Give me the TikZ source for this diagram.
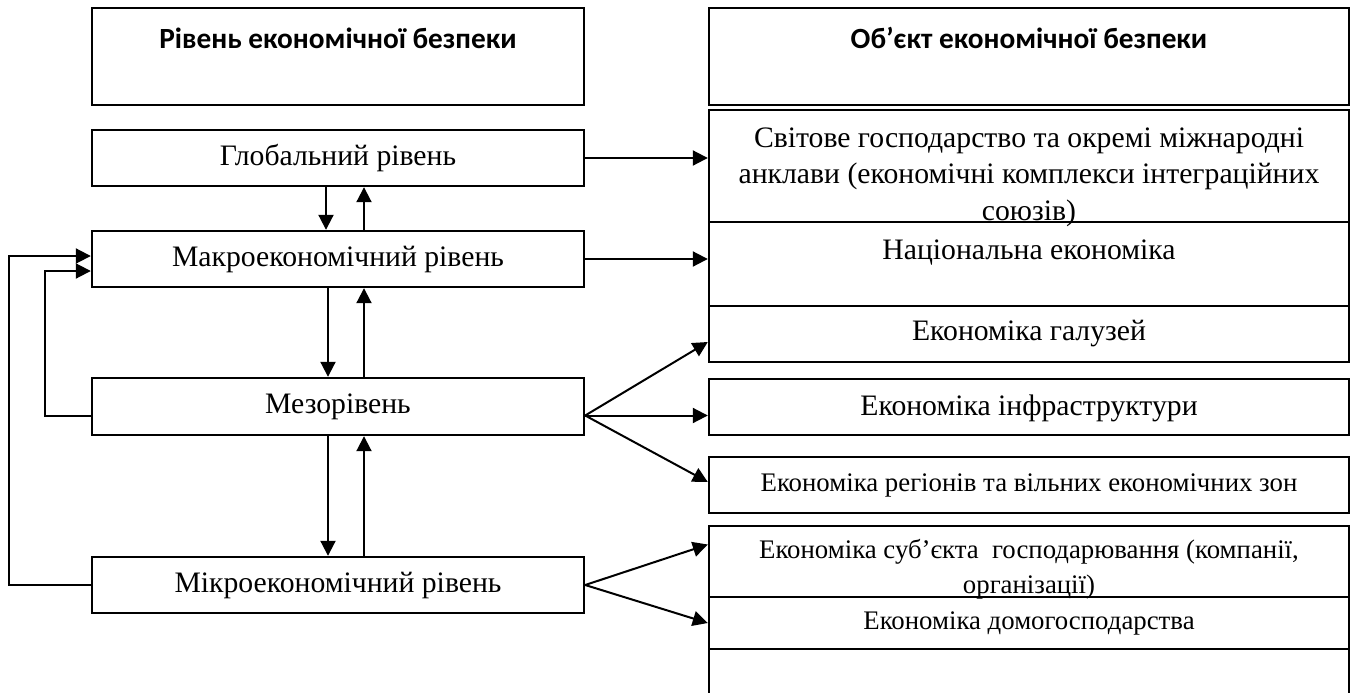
\documentclass[tikz,border=0pt]{standalone}
\usepackage{fontspec}
\setmainfont{Liberation Serif}
\newfontfamily\hdrfont{Carlito}
\usetikzlibrary{arrows.meta,calc}
\begin{document}
\begin{tikzpicture}[x=1pt,y=-1pt,
  box/.style={draw, line width=2.4pt, inner sep=0pt},
  lbox/.style={box, minimum width=492pt},
  rbox/.style={box, minimum width=640pt},
  txt/.style={font=\fontsize{29.7}{36.5}\selectfont, inner sep=0pt, align=center},
  stxt/.style={font=\fontsize{26.8}{35}\selectfont, inner sep=0pt, align=center},
  htxt/.style={font=\hdrfont\bfseries\fontsize{29.3}{32}\selectfont, inner sep=0pt},
  conn/.style={line width=2pt, -{Triangle[length=15pt,width=15pt]}}]
\useasboundingbox (0,0) rectangle (1352,693);
% left column
\node[lbox, minimum height=97pt] (hL) at (338,56.5) {};
\node[lbox, minimum height=56pt] (gl) at (338,158) {};
\node[lbox, minimum height=56pt] (ma) at (338,259) {};
\node[lbox, minimum height=57pt] (me) at (338,406.5) {};
\node[lbox, minimum height=56pt] (mi) at (338,585) {};
% right column
\node[rbox, minimum height=97pt] (hR) at (1029,56.5) {};
\node[rbox, minimum height=112pt] (r1) at (1029,166) {};
\node[rbox, minimum height=84pt] (r2) at (1029,264) {};
\node[rbox, minimum height=56pt] (r3) at (1029,334) {};
\node[rbox, minimum height=56pt] (r4) at (1029,407) {};
\node[rbox, minimum height=56pt] (r5) at (1029,485) {};
\node[rbox, minimum height=71pt] (r6) at (1029,561.5) {};
\node[rbox, minimum height=52pt] (r7) at (1029,623) {};
\node[rbox, minimum height=71pt] (r8) at (1029,684.5) {};
% texts
\node[htxt] (hLt) at (338,38) {Рівень економічної безпеки};
\node[htxt] (hRt) at (1029,38) {Об’єкт економічної безпеки};
\node[txt] (glt) at (gl) {Глобальний рівень};
\node[txt] (mat) at (ma) {Макроекономічний рівень};
\node[txt] (met) at (me) {Мезорівень};
\node[txt] (mit) at (mi) {Мікроекономічний рівень};
\node[txt] (r1t) at (1029,177) {Світове господарство та окремі міжнародні\\анклави (економічні комплекси інтеграційних\\союзів)};
\node[txt] (r2t) at (1029,253) {Національна економіка};
\node[txt] (r3t) at (1029,334) {Економіка галузей};
\node[txt] (r4t) at (1029,408) {Економіка інфраструктури};
\node[stxt] (r5t) at (1029,485) {Економіка регіонів та вільних економічних зон};
\node[stxt] (r6t) at (1029,569.5) {Економіка суб’єкта\ \ господарювання (компанії,\\організації)};
\node[stxt] (r7t) at (1029,623) {Економіка домогосподарства};
% helper coordinates
\coordinate (fb1) at (9,0);
\coordinate (fb2) at (45,0);
\coordinate (maA) at ([yshift=3pt]ma.west);
\coordinate (maB) at ([yshift=-12pt]ma.west);
\coordinate (mf) at ([yshift=-9pt]me.east);
\coordinate (mw) at ([yshift=-9pt]me.west);
% connectors right
\draw[conn] (gl.east) -- (gl.east -| r1.west);
\draw[conn] (ma.east) -- (ma.east -| r2.west);
\draw[conn] (mf) -- ([yshift=-8pt]r3.west);
\draw[conn] (mf) -- (mf -| r4.west);
\draw[conn] (mf) -- ([yshift=3pt]r5.west);
\draw[conn] (mi.east) -- ([yshift=17pt]r6.west);
\draw[conn] (mi.east) -- (r7.west);
% vertical connectors
\draw[conn] ([xshift=-12pt]gl.south) -- ([xshift=-12pt]ma.north);
\draw[conn] ([xshift=26pt]ma.north) -- ([xshift=26pt]gl.south);
\draw[conn] ([xshift=-10pt]ma.south) -- ([xshift=-10pt]me.north);
\draw[conn] ([xshift=26pt]me.north) -- ([xshift=26pt]ma.south);
\draw[conn] ([xshift=-10pt]me.south) -- ([xshift=-10pt]mi.north);
\draw[conn] ([xshift=26pt]mi.north) -- ([xshift=26pt]me.south);
% feedback
\draw[conn] (mi.west) -- (mi.west -| fb1) -- (fb1 |- maA) -- (maA);
\draw[conn] (mw) -- (mw -| fb2) -- (fb2 |- maB) -- (maB);
\end{tikzpicture}
\end{document}
